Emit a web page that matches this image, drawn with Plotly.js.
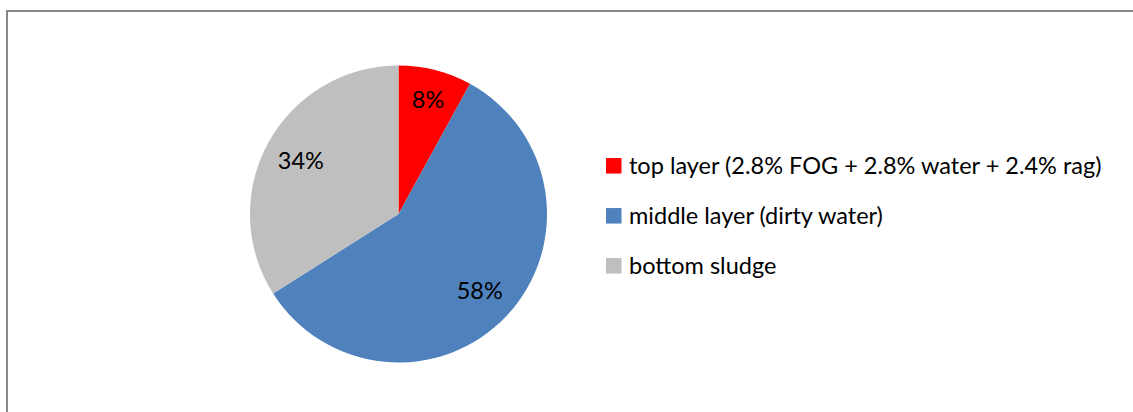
<!DOCTYPE html>
<html>
<head>
<meta charset="utf-8">
<script src="https://cdn.plot.ly/plotly-3.0.1.min.js"></script>
<style>html,body{margin:0;padding:0;background:#fff;}#chart{width:1133px;height:412px;}</style>
</head>
<body>
<div id="chart"></div>
<script>
const labels = ["top layer (2.8% FOG + 2.8% water + 2.4% rag)", "middle layer (dirty water)", "bottom sludge"];
const values = [8, 58, 34];
const colors = ["#FF0000", "#4F81BD", "#BFBFBF"];

const W = 1133, H = 412;
const font = "Lato, 'Open Sans', sans-serif";
const domain = {x: [250 / W, 547 / W], y: [1 - 362.5 / H, 1 - 65.5 / H]};

const pieTrace = {
  type: "pie",
  labels: labels,
  values: values,
  sort: false,
  direction: "clockwise",
  rotation: 0,
  marker: {colors: colors, line: {width: 0}},
  textinfo: "none",
  hoverinfo: "label+percent",
  showlegend: false,
  domain: domain
};

// transparent ring on top, used only to place the percentage labels
const labelTrace = {
  type: "pie",
  labels: labels,
  values: values,
  sort: false,
  direction: "clockwise",
  rotation: 0,
  hole: 0.5,
  marker: {colors: ["rgba(0,0,0,0)", "rgba(0,0,0,0)", "rgba(0,0,0,0)"], line: {width: 0}},
  textinfo: "percent",
  texttemplate: "%{percent:.0%}",
  textposition: "inside",
  insidetextorientation: "horizontal",
  insidetextfont: {family: font, size: 23.5, color: "#000"},
  hoverinfo: "skip",
  showlegend: false,
  domain: domain
};

// legend drawn as shapes + annotations built from labels/colors
const legX = 606, legTextX = 627, legY0 = 165.8, legStep = 50, sq = 15.5;
const shapes = [{
  type: "rect", xref: "paper", yref: "paper",
  x0: 7 / W, x1: 1.02, y0: -0.05, y1: 1 - 11 / H,
  line: {color: "#888888", width: 2}, fillcolor: "rgba(0,0,0,0)"
}];
const annotations = [];
labels.forEach((lab, i) => {
  const cy = legY0 + i * legStep;
  shapes.push({
    type: "rect", xref: "paper", yref: "paper",
    x0: legX / W, x1: (legX + sq) / W,
    y0: 1 - (cy + sq / 2) / H, y1: 1 - (cy - sq / 2) / H,
    line: {width: 0}, fillcolor: colors[i]
  });
  annotations.push({
    xref: "paper", yref: "paper", x: legTextX / W, y: 1 - (cy - 1) / H,
    xanchor: "left", yanchor: "middle", showarrow: false,
    text: lab, font: {family: font, size: 23.5, color: "#000"}
  });
});

const layout = {
  width: W, height: H,
  margin: {l: 0, r: 0, t: 0, b: 0},
  paper_bgcolor: "#fff",
  showlegend: false,
  shapes: shapes,
  annotations: annotations
};

Plotly.newPlot("chart", [pieTrace, labelTrace], layout, {displayModeBar: false, staticPlot: true});
</script>
</body>
</html>
